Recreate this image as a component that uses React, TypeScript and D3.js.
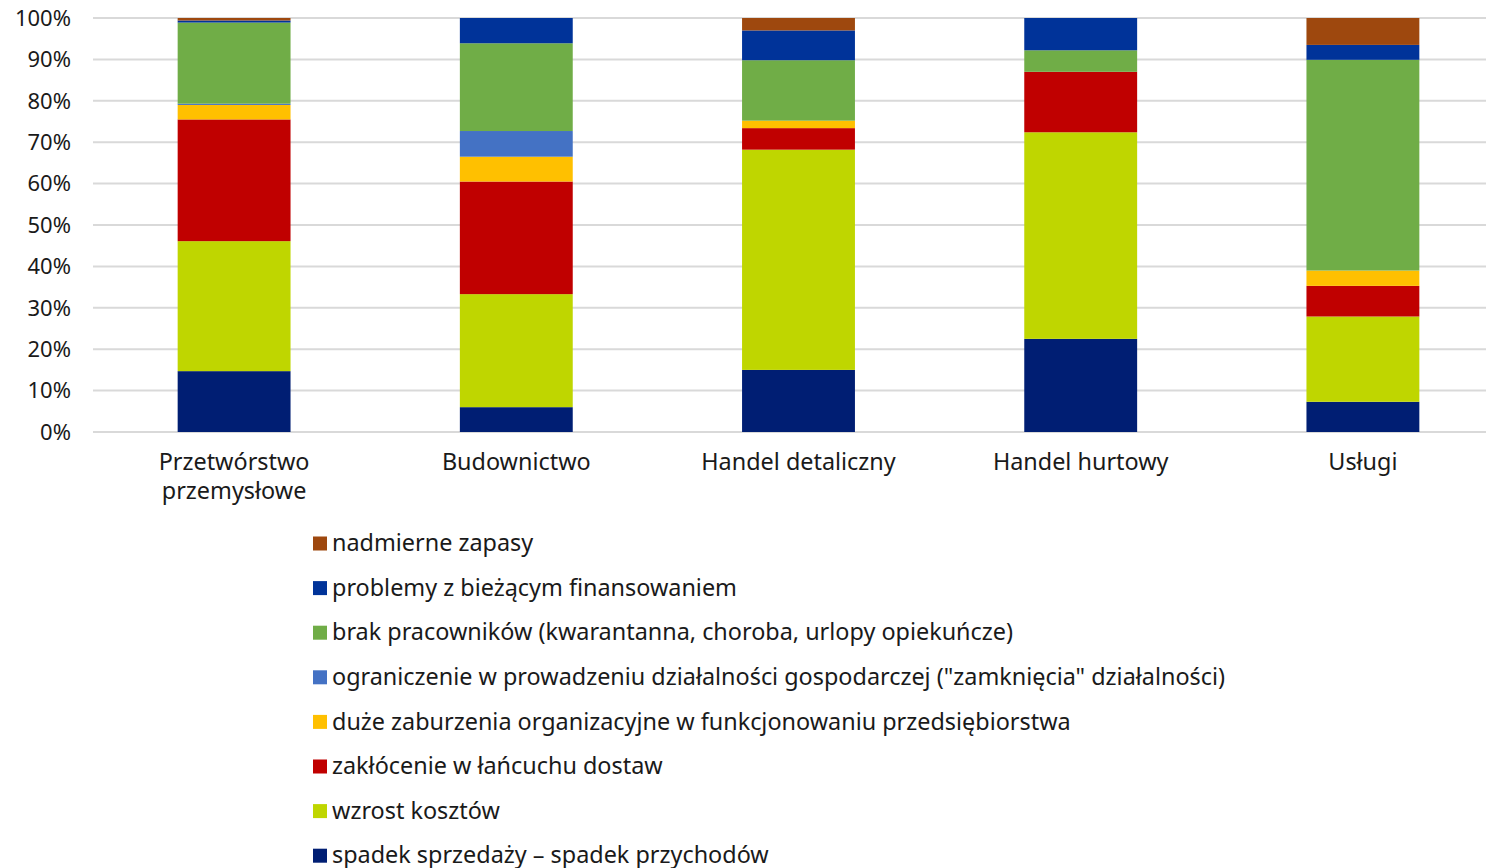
import React from "react";
import * as d3 from "d3";

const categories = ["Przetwórstwo\nprzemysłowe", "Budownictwo", "Handel detaliczny", "Handel hurtowy", "Usługi"];
const seriesNames = [
  "spadek sprzedaży – spadek przychodów",
  "wzrost kosztów",
  "zakłócenie w łańcuchu dostaw",
  "duże zaburzenia organizacyjne w funkcjonowaniu przedsiębiorstwa",
  "ograniczenie w prowadzeniu działalności gospodarczej (\"zamknięcia\" działalności)",
  "brak pracowników (kwarantanna, choroba, urlopy opiekuńcze)",
  "problemy z bieżącym finansowaniem",
  "nadmierne zapasy",
];
const seriesColors = ["#001E73", "#BFD600", "#C00000", "#FFC000", "#4472C4", "#70AD47", "#003399", "#9E480E"];
const spadek = [14.7, 6.0, 15.0, 22.5, 7.3];
const wzrost = [31.4, 27.3, 53.2, 49.9, 20.6];
const zaklocenie = [29.4, 27.2, 5.2, 14.6, 7.4];
const zaburzenia = [3.5, 6.0, 1.8, 0, 3.7];
const ograniczenie = [0.3, 6.2, 0, 0, 0];
const brak = [19.6, 21.2, 14.6, 5.2, 50.9];
const problemy = [0.5, 6.1, 7.2, 7.8, 3.6];
const nadmierne = [0.6, 0, 3.0, 0, 6.5];
const yTicks = [0, 10, 20, 30, 40, 50, 60, 70, 80, 90, 100];

const seriesValues = [spadek, wzrost, zaklocenie, zaburzenia, ograniczenie, brak, problemy, nadmierne];

const FONT = "'Noto Sans', sans-serif";

export default function App() {
  const W = 1486, H = 868;
  const x = d3.scaleBand<string>().domain(categories).range([93, 1504]).paddingInner(0.6).paddingOuter(0.3);
  const y = d3.scaleLinear().domain([0, 100]).range([432, 18]);

  const rows = categories.map((c, i) => {
    const r: any = { cat: c };
    seriesValues.forEach((s, k) => (r["s" + k] = s[i]));
    return r;
  });
  const keys = seriesValues.map((_, k) => "s" + k);
  const stacked = d3.stack().keys(keys)(rows);

  return (
    <svg width={W} height={H} style={{ position: "absolute", left: 0, top: 0, background: "#fff" }} fontFamily={FONT}>
      {yTicks.map((t) => (
        <g key={t}>
          <line x1={93} x2={W} y1={y(t)} y2={y(t)} stroke="#D9D9D9" strokeWidth={2} />
          <text x={71} y={y(t)} dy="0.35em" textAnchor="end" fontSize={22} fill="#1a1a1a">{t}%</text>
        </g>
      ))}
      {stacked.map((layer, k) => (
        <g key={k} fill={seriesColors[k]}>
          {layer.map((d, i) => {
            const h = y(d[0]) - y(d[1]);
            if (h <= 0) return null;
            return <rect key={i} x={x(categories[i])} width={x.bandwidth()} y={y(d[1])} height={h} />;
          })}
        </g>
      ))}
      {categories.map((c) => {
        const cx = (x(c) as number) + x.bandwidth() / 2;
        return c.split("\n").map((line, j) => (
          <text key={c + j} x={cx} y={462 + j * 29} dy="0.35em" textAnchor="middle" fontSize={23.4} fill="#1a1a1a">{line}</text>
        ));
      })}
      {seriesNames.slice().reverse().map((name, j) => {
        const k = seriesNames.length - 1 - j;
        const cy = 543 + j * 44.6;
        return (
          <g key={name}>
            <rect x={313} y={cy - 6.5} width={14} height={14} fill={seriesColors[k]} />
            <text x={332} y={cy} dy="0.35em" fontSize={23.4} fill="#1a1a1a">{name}</text>
          </g>
        );
      })}
    </svg>
  );
}
